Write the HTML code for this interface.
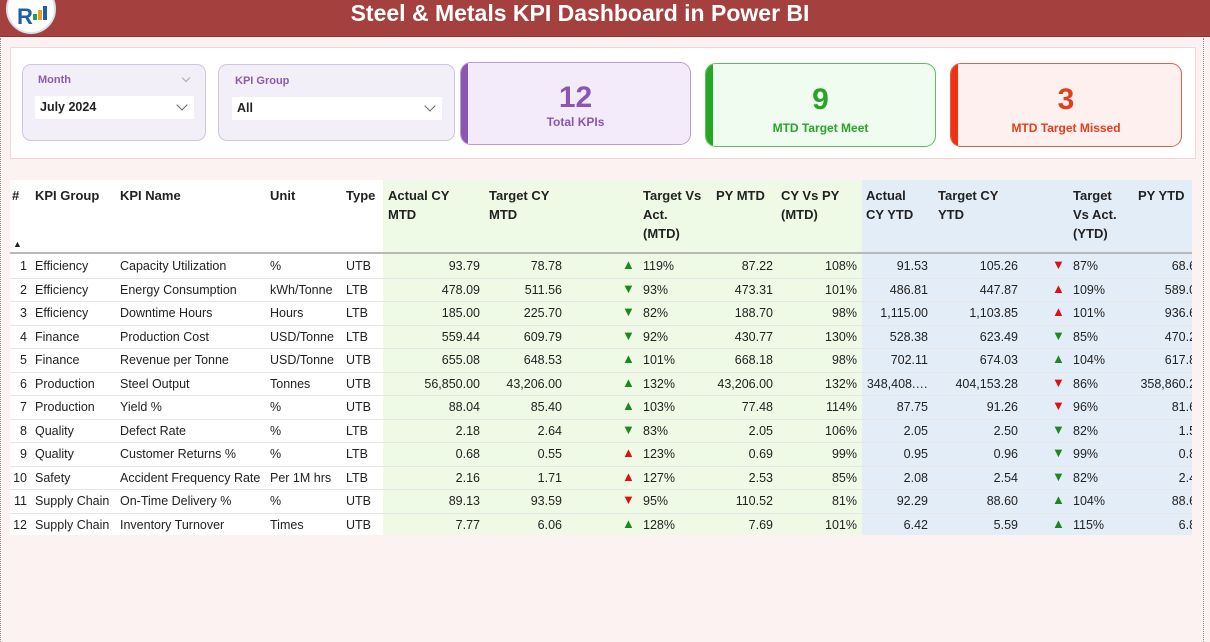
<!DOCTYPE html>
<html><head><meta charset="utf-8">
<style>
*{box-sizing:border-box;margin:0;padding:0}
body{width:1210px;height:642px;overflow:hidden;background:#fcf2f2;font-family:"Liberation Sans",sans-serif;position:relative;color:#222}
.abs{position:absolute}
#hdr{left:0;top:0;width:1210px;height:37px;background:#a4413f;border-bottom:1px solid #8c3533}
#title{left:0;width:1160px;top:-4px;text-align:center;color:#fff;font-weight:bold;font-size:23px;line-height:34px}
#logo{left:6px;top:-16px;width:50px;height:50px;border-radius:50%;background:#fff;border:2px solid #dde}
#panel{left:10px;top:47px;width:1186px;height:112px;background:#fff;border:1px solid #f0d8d8}
.slicer{background:#f3eff9;border:1px solid #cfc5e0;border-radius:9px}
.slab{color:#8a5bb0;font-weight:bold;font-size:11px}
.dd{background:#fff;font-weight:bold;font-size:12.5px;padding-left:5px;line-height:23px}
.chev{position:absolute;right:8px;top:5px;width:8px;height:8px;border-right:1.3px solid #666;border-bottom:1.3px solid #666;transform:rotate(45deg)}
.card{border-radius:11px;text-align:center;overflow:hidden}
.card .bar{position:absolute;left:0;top:0;bottom:0;width:7px}
.card .num{font-size:30px;font-weight:bold;margin-top:18px;line-height:34px}
.card .lbl{font-size:12px;font-weight:bold}
#table{left:10px;top:180px;width:1182px;height:355px;background:#fff;overflow:hidden}
.th{position:absolute;font-weight:bold;font-size:13px;line-height:19px;top:6px}
.cell{position:absolute;font-size:12.5px;line-height:16px;white-space:nowrap}
.sep{position:absolute;left:0;width:1182px;height:1px;background:#e6e6e6}
</style></head><body>
<div class="abs" id="hdr">
 <div class="abs" id="logo">
  <div class="abs" style="left:9px;top:18px;font-weight:bold;color:#1f5fa8;font-size:22px">R</div>
  <div class="abs" style="left:25px;top:28px;width:4px;height:6px;background:#2a9d4a"></div>
  <div class="abs" style="left:30px;top:24px;width:4px;height:10px;background:#e8a020"></div>
  <div class="abs" style="left:35px;top:20px;width:4px;height:14px;background:#1f5fa8"></div>
 </div>
 <div class="abs" id="title">Steel &amp; Metals KPI Dashboard in Power BI</div>
</div>
<div class="abs" style="left:0;top:38px;width:2px;height:604px;border-left:1px dotted #888"></div>
<div class="abs" style="left:1203px;top:38px;width:2px;height:604px;border-left:1px dotted #888"></div>
<div class="abs" id="panel"></div>

<div class="abs slicer" style="left:22px;top:64px;width:184px;height:77px">
 <div class="abs slab" style="left:15px;top:9px">Month</div>
 <div class="abs" style="left:160px;top:10px;width:6px;height:6px;border-right:1px solid #aaa;border-bottom:1px solid #aaa;transform:rotate(45deg)"></div>
 <div class="abs dd" style="left:12px;top:31px;width:159px;height:23px">July 2024<span class="chev"></span></div>
</div>
<div class="abs slicer" style="left:218px;top:64px;width:237px;height:77px">
 <div class="abs slab" style="left:16px;top:10px">KPI Group</div>
 <div class="abs dd" style="left:13px;top:32px;width:210px;height:23px">All<span class="chev"></span></div>
</div>

<div class="abs card" style="left:460px;top:62px;width:231px;height:83px;background:#f3ebfa;border:1px solid #b99fd0">
 <div class="bar" style="background:#8a56b0"></div>
 <div class="num" style="color:#8a56b0">12</div>
 <div class="lbl" style="color:#8a56b0">Total KPIs</div>
</div>
<div class="abs card" style="left:705px;top:63px;width:231px;height:84px;background:#effcef;border:1px solid #5cbf5c">
 <div class="bar" style="background:#22a822"></div>
 <div class="num" style="color:#28a428;margin-top:19px">9</div>
 <div class="lbl" style="color:#28a428;margin-top:4px">MTD Target Meet</div>
</div>
<div class="abs card" style="left:950px;top:63px;width:232px;height:84px;background:#fdf0ee;border:1px solid #e06050">
 <div class="bar" style="background:#f03010"></div>
 <div class="num" style="color:#e0401c;margin-top:19px">3</div>
 <div class="lbl" style="color:#e0401c;margin-top:4px">MTD Target Missed</div>
</div>

<div class="abs" id="table">
 <div class="abs" style="left:373px;top:0;width:479px;height:355px;background:#eefae6"></div>
 <div class="abs" style="left:852px;top:0;width:330px;height:355px;background:#e3edf8"></div>
 <div class="sep" style="top:72px;height:2px;background:#b8b8b8"></div>
</div>

<script>
const nums=[1,2,3,4,5,6,7,8,9,10,11,12];
const groups=["Efficiency","Efficiency","Efficiency","Finance","Finance","Production","Production","Quality","Quality","Safety","Supply Chain","Supply Chain"];
const names=["Capacity Utilization","Energy Consumption","Downtime Hours","Production Cost","Revenue per Tonne","Steel Output","Yield %","Defect Rate","Customer Returns %","Accident Frequency Rate","On-Time Delivery %","Inventory Turnover"];
const units=["%","kWh/Tonne","Hours","USD/Tonne","USD/Tonne","Tonnes","%","%","%","Per 1M hrs","%","Times"];
const types=["UTB","LTB","LTB","LTB","UTB","UTB","UTB","LTB","LTB","LTB","UTB","UTB"];
const actualMTD=["93.79","478.09","185.00","559.44","655.08","56,850.00","88.04","2.18","0.68","2.16","89.13","7.77"];
const targetMTD=["78.78","511.56","225.70","609.79","648.53","43,206.00","85.40","2.64","0.55","1.71","93.59","6.06"];
const pctMTD=[119,93,82,92,101,132,103,83,123,127,95,128];
const pyMTD=["87.22","473.31","188.70","430.77","668.18","43,206.00","77.48","2.05","0.69","2.53","110.52","7.69"];
const cyVsPyMTD=[108,101,98,130,98,132,114,106,99,85,81,101];
const actualYTD=["91.53","486.81","1,115.00","528.38","702.11","348,408.…","87.75","2.05","0.95","2.08","92.29","6.42"];
const targetYTD=["105.26","447.87","1,103.85","623.49","674.03","404,153.28","91.26","2.50","0.96","2.54","88.60","5.59"];
const pctYTD=[87,109,101,85,104,86,96,82,99,82,104,115];
const pyYTD=["68.60","589.05","936.65","470.25","617.85","358,860.25","81.65","1.55","0.85","2.45","88.65","6.85"];

const T=document.getElementById('table');
function add(cls,txt,left,top,w,align,extra){
  const d=document.createElement('div');
  d.className=cls;d.textContent=txt;
  d.style.left=left+'px';d.style.top=top+'px';
  if(w)d.style.width=w+'px';
  if(align)d.style.textAlign=align;
  if(extra)Object.assign(d.style,extra);
  T.appendChild(d);return d;
}
const heads=[["#",2],["KPI Group",25],["KPI Name",110],["Unit",260],["Type",336],["Actual CY\nMTD",378],["Target CY\nMTD",479],["Target Vs\nAct.\n(MTD)",633],["PY MTD",706],["CY Vs PY\n(MTD)",771],["Actual\nCY YTD",856],["Target CY\nYTD",928],["Target\nVs Act.\n(YTD)",1063],["PY YTD",1128]];
heads.forEach(h=>{
  const d=add('th','',h[1],6);
  d.style.whiteSpace='pre';d.textContent=h[0];
  
  
});
const sortI=add('cell','▲',3,56,0,null,{fontSize:'9px'});



const rowTop=78,rowH=23.5;
function arrow(pct,type){
  const up=pct>=100;
  const good=(type==='UTB')?up:!up;
  return {ch:up?'▲':'▼',col:good?'#1a8a1a':'#e01010'};
}
nums.forEach((n,i)=>{
  const y=rowTop+i*rowH;
  const cells=[];
  cells.push(add('cell',String(n),0,y,17,'right'));
  cells.push(add('cell',groups[i],25,y));
  cells.push(add('cell',names[i],110,y));
  cells.push(add('cell',units[i],260,y));
  cells.push(add('cell',types[i],336,y));
  cells.push(add('cell',actualMTD[i],370,y,100,'right'));
  cells.push(add('cell',targetMTD[i],452,y,100,'right'));
  const a1=arrow(pctMTD[i],types[i]);
  cells.push(add('cell',a1.ch,612,y-1,null,null,{color:a1.col,fontSize:'13px'}));
  cells.push(add('cell',pctMTD[i]+'%',633,y));
  cells.push(add('cell',pyMTD[i],663,y,100,'right'));
  cells.push(add('cell',cyVsPyMTD[i]+'%',747,y,100,'right'));
  cells.push(add('cell',actualYTD[i],818,y,100,'right'));
  cells.push(add('cell',targetYTD[i],908,y,100,'right'));
  const a2=arrow(pctYTD[i],types[i]);
  cells.push(add('cell',a2.ch,1042,y-1,null,null,{color:a2.col,fontSize:'13px'}));
  cells.push(add('cell',pctYTD[i]+'%',1063,y));
  cells.push(add('cell',pyYTD[i],1093,y,100,'right'));
  cells.forEach(c=>{
    
    
  });
  if(i<11){
    const s=document.createElement('div');
    s.className='sep';s.style.top=(rowTop+(i+1)*rowH-4)+'px';
    
    
    T.appendChild(s);
  }
});
</script>
</body></html>
